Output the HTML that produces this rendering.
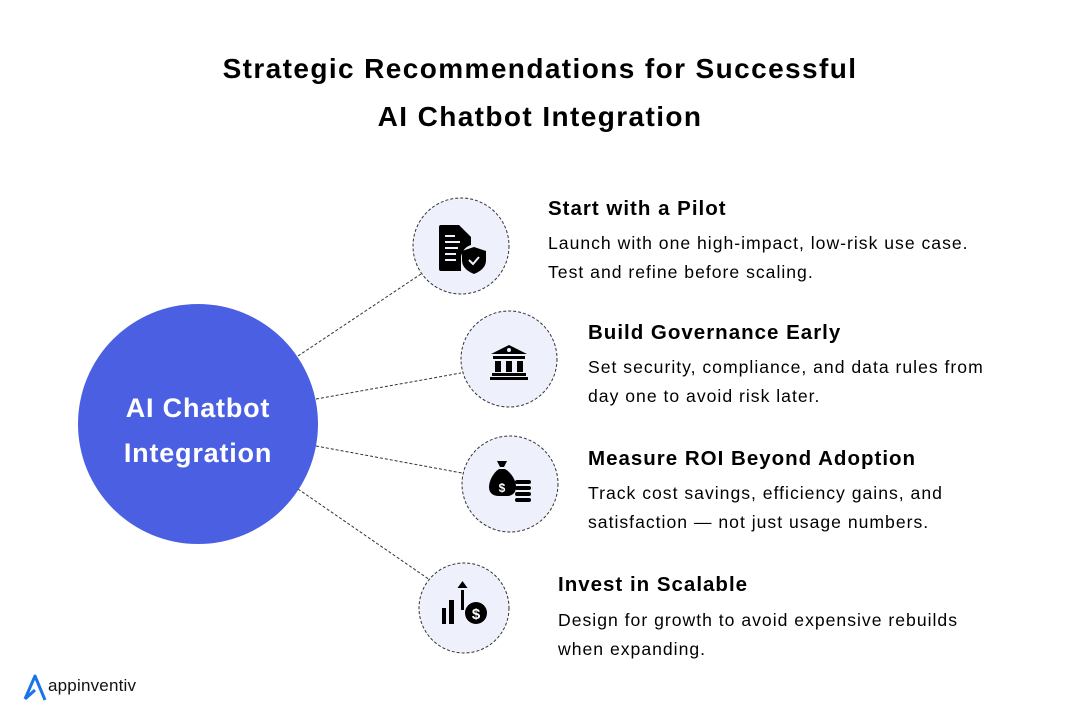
<!DOCTYPE html>
<html><head><meta charset="utf-8"><style>
html,body{margin:0;padding:0;background:#fff;}
body{width:1080px;height:726px;position:relative;overflow:hidden;font-family:"Liberation Sans",sans-serif;color:#000;}
.t{position:absolute;white-space:nowrap;}
.h{font-size:28px;font-weight:bold;left:0;width:1080px;text-align:center;letter-spacing:1.4px;}
.st{font-size:20.5px;font-weight:bold;letter-spacing:1px;}
.d{font-size:17.6px;line-height:29px;letter-spacing:1px;}
</style></head><body>
<svg width="1080" height="726" style="position:absolute;left:0;top:0">
<g stroke="#333" stroke-width="1" stroke-dasharray="3,2" fill="none">
<line x1="298" y1="356" x2="421" y2="274"/>
<line x1="316" y1="399" x2="461" y2="373"/>
<line x1="316" y1="446" x2="462" y2="473"/>
<line x1="298" y1="489" x2="430" y2="580"/>
</g>
<circle cx="198" cy="424" r="120" fill="#4B5FE3"/>
<g fill="#EEF0FC" stroke="#333" stroke-width="1" stroke-dasharray="3,2">
<circle cx="461" cy="246" r="48"/>
<circle cx="509" cy="359" r="48"/>
<circle cx="510" cy="484" r="48"/>
<circle cx="464" cy="608" r="45"/>
</g>
<g fill="#000">
<path d="M441 225 h18 l12 12 v8 a14 14 0 0 0 -10 12 v14 h-20 a2 2 0 0 1 -2 -2 v-42 a2 2 0 0 1 2 -2z"/>
<path d="M474 247 l12 4 v9 c0 7 -5 11 -12 14 c-7 -3 -12 -7 -12 -14 v-9z"/>
</g>
<g stroke="#EEF0FC" stroke-width="2" fill="none">
<line x1="445" y1="236" x2="455" y2="236"/><line x1="445" y1="242" x2="460" y2="242"/><line x1="445" y1="248" x2="458" y2="248"/><line x1="445" y1="254" x2="456" y2="254"/><line x1="445" y1="260" x2="456" y2="260"/>
<path d="M469 260 l4 4 l6 -7"/>
</g>
<g fill="#000">
<path d="M509 345 l18 9 h-36z"/>
<rect x="493" y="356" width="32" height="3"/>
<rect x="495" y="361" width="6" height="11"/><rect x="506" y="361" width="6" height="11"/><rect x="517" y="361" width="6" height="11"/>
<rect x="492" y="373" width="34" height="3"/><rect x="490" y="377" width="38" height="3"/>
</g>
<circle cx="509" cy="350" r="2" fill="#EEF0FC"/>
<g fill="#000">
<path d="M497 461 h10 l-3 6 h-4z"/>
<path d="M499 469 h6 c7 4 11 12 11 18 c0 6 -4 9 -9 9 h-8 c-6 0 -10 -3 -10 -9 c0 -6 4 -14 10 -18z"/>
<rect x="515" y="480" width="16" height="4" rx="2"/><rect x="515" y="486" width="16" height="4" rx="2"/><rect x="515" y="492" width="16" height="4" rx="2"/><rect x="515" y="498" width="16" height="4" rx="2"/>
</g>
<text x="502" y="492" font-size="12" font-weight="bold" fill="#fff" text-anchor="middle" font-family="Liberation Sans">$</text>
<g fill="#000">
<rect x="442" y="608" width="4" height="16"/><rect x="449" y="600" width="5" height="24"/>
<rect x="461" y="590" width="3" height="20"/><path d="M462.5 581 l5 7 h-10z"/>
<circle cx="476" cy="613" r="11"/>
</g>
<text x="476" y="619" font-size="15" font-weight="bold" fill="#fff" text-anchor="middle" font-family="Liberation Sans">$</text>
<path d="M25 699 L35 676 L45 700 M35 690 L25 699" stroke="#1A73E8" stroke-width="3" fill="none" stroke-linejoin="round"/>
</svg>
<div class="t h" style="top:53px">Strategic Recommendations for Successful</div>
<div class="t h" style="top:101px">AI Chatbot Integration</div>
<div class="t" style="left:78px;width:240px;text-align:center;top:386px;font-size:27px;font-weight:bold;color:#fff;line-height:45px;white-space:normal;letter-spacing:0.8px">AI Chatbot<br>Integration</div>

<div class="t st" style="left:548px;top:197px">Start with a Pilot</div>
<div class="t d" style="left:548px;top:229px">Launch with one high-impact, low-risk use case.<br>Test and refine before scaling.</div>

<div class="t st" style="left:588px;top:321px">Build Governance Early</div>
<div class="t d" style="left:588px;top:353px">Set security, compliance, and data rules from<br>day one to avoid risk later.</div>

<div class="t st" style="left:588px;top:447px">Measure ROI Beyond Adoption</div>
<div class="t d" style="left:588px;top:479px">Track cost savings, efficiency gains, and<br>satisfaction — not just usage numbers.</div>

<div class="t st" style="left:558px;top:573px">Invest in Scalable</div>
<div class="t d" style="left:558px;top:606px">Design for growth to avoid expensive rebuilds<br>when expanding.</div>

<div class="t" style="left:48px;top:676px;font-size:17px;color:#111;letter-spacing:0.2px">appinventiv</div>
</body></html>
